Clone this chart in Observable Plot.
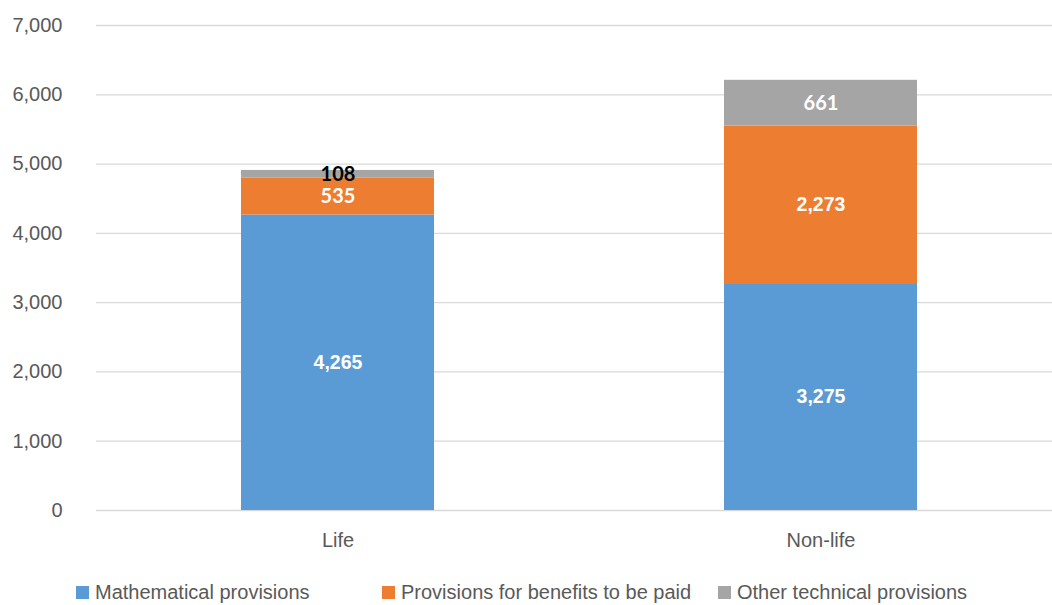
<!DOCTYPE html>
<html>
<head>
<meta charset="utf-8">
<script src="https://cdn.jsdelivr.net/npm/d3@7"></script>
<script src="https://cdn.jsdelivr.net/npm/@observablehq/plot@0.6"></script>
<style>
  html, body { margin: 0; padding: 0; background: #fff; }
  #wrap { position: relative; width: 1052px; height: 605px; overflow: hidden; }
  #legend { position: absolute; left: 0; top: 578px; width: 1052px; height: 28px;
            font-family: "Liberation Sans", Arial, sans-serif; font-size: 20px; color: #595959; }
  .item { position: absolute; top: 0; display: flex; align-items: center; height: 28px; white-space: nowrap; }
  .sw { width: 13px; height: 13px; margin-right: 6px; display: inline-block; }
</style>
</head>
<body>
<div id="wrap"><div id="chart"></div><div id="legend"></div></div>
<script>
// ---- data ----
const categories = ["Life", "Non-life"];
const seriesNames = ["Mathematical provisions", "Provisions for benefits to be paid", "Other technical provisions"];
const mathematical = [4265, 3275];
const benefits = [535, 2273];
const other = [108, 661];
const yTicks = [0, 1000, 2000, 3000, 4000, 5000, 6000, 7000];
const colors = ["#5B9BD5", "#ED7D31", "#A5A5A5"];

const seriesValues = [mathematical, benefits, other];
const data = [];
categories.forEach((c, i) => {
  seriesNames.forEach((s, j) => {
    data.push({category: c, series: s, value: seriesValues[j][i]});
  });
});

const fmt = d3.format(",");
const textColor = "#595959";

const chart = Plot.plot({
  width: 1052,
  height: 560,
  marginTop: 25,
  marginBottom: 50,
  marginLeft: 96,
  marginRight: 0,
  style: {fontFamily: "'Liberation Sans', Arial, sans-serif", fontSize: "20px", color: textColor, background: "#fff"},
  x: {domain: categories, range: [96, 1063], paddingInner: 0.6, paddingOuter: 0.3, label: null},
  y: {domain: [0, 7000], label: null},
  color: {domain: seriesNames, range: colors},
  marks: [
    Plot.ruleY(yTicks, {stroke: "#d9d9d9", strokeWidth: 1.3}),
    Plot.barY(data, Plot.stackY({x: "category", y: "value", z: "series", fill: "series", order: null})),
    Plot.text(data, Plot.stackY({
      x: "category", y: "value", z: "series", order: null,
      text: d => d.value >= 1000 ? fmt(d.value) : "",
      fill: "#ffffff", fontWeight: "bold", fontSize: 19.5,
      fontFamily: "'Liberation Sans', Arial, sans-serif"
    })),
    Plot.text(data, Plot.stackY({
      x: "category", y: "value", z: "series", order: null,
      text: d => d.value < 1000 ? fmt(d.value) : "",
      fill: d => d.value < 200 ? "#000000" : "#ffffff",
      fontWeight: "bold", fontSize: 20, fontFamily: "Lato, 'Open Sans', sans-serif"
    })),
    Plot.axisY({ticks: yTicks, tickSize: 0, tickPadding: 34, tickFormat: fmt, fill: textColor, fontSize: 20}),
    Plot.axisX({tickSize: 0, tickPadding: 22, fill: textColor, fontSize: 20})
  ]
});
document.getElementById("chart").appendChild(chart);

// legend
const legendLeft = [76, 382, 718];
const legend = document.getElementById("legend");
seriesNames.forEach((s, j) => {
  const it = document.createElement("div");
  it.className = "item";
  it.style.left = legendLeft[j] + "px";
  const sw = document.createElement("span");
  sw.className = "sw";
  sw.style.background = colors[j];
  it.appendChild(sw);
  it.appendChild(document.createTextNode(s));
  legend.appendChild(it);
});
</script>
</body>
</html>
